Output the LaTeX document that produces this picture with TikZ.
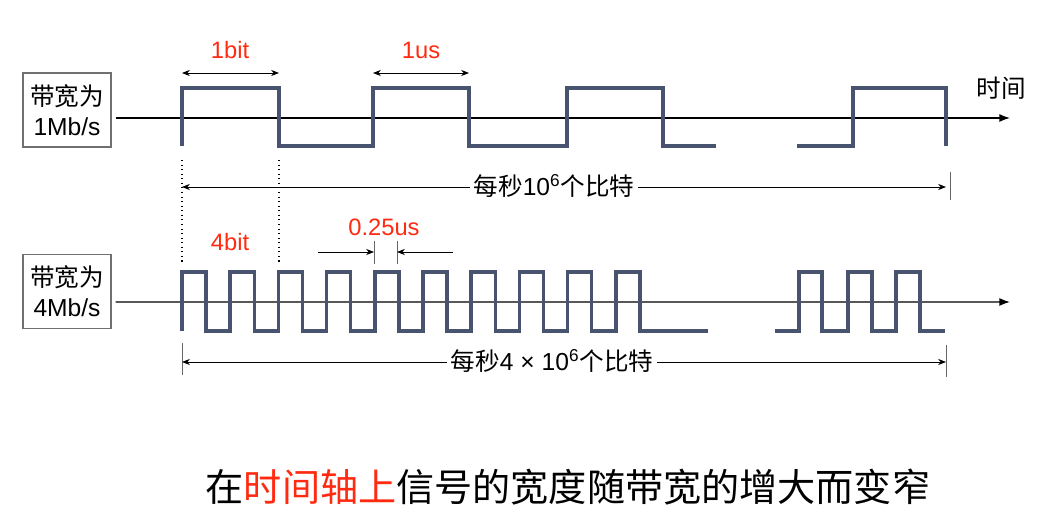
\documentclass[tikz,border=0pt]{standalone}
\usepackage{fontspec}
\setmainfont{Liberation Sans}
\newfontfamily\cjk{Noto Sans CJK SC}
\usepackage{xcolor}
\usetikzlibrary{arrows.meta,positioning}
\definecolor{sigc}{HTML}{485370}
\definecolor{red}{HTML}{FF2A10}
\definecolor{boxgray}{HTML}{707070}

\begin{document}
\begin{tikzpicture}[x=0.02cm,y=-0.02cm,font=\fontsize{13.5}{16}\selectfont,
  sig/.style={sigc,line width=2pt},
  axis/.style={line width=0.8pt,-{Latex[length=6pt,width=4.5pt]}},
  dim/.style={line width=0.5pt,{Stealth[length=4.5pt,width=3.5pt]}-{Stealth[length=4.5pt,width=3.5pt]}},
  onedim/.style={line width=0.5pt,-{Stealth[length=4.5pt,width=3.5pt]}},
  bwbox/.style={draw=boxgray,line width=0.8pt,minimum width=1.76cm,minimum height=1.48cm,
    align=center,inner sep=0pt,font=\fontsize{14}{17}\selectfont},
  tick/.style={line width=0.5pt,black!60},
  redlbl/.style={red,font=\fontsize{13.5}{16}\selectfont}]
  \useasboundingbox (0,0) rectangle (1044,526);

  % 1 Mb/s
  \node[bwbox] (bw1) at (67,110) {{\cjk 带宽为}\\1Mb/s};
  \coordinate (ax1) at (1010,118);
  \draw[axis] (bw1.east) ++(4,8) coordinate (ax1s) -- (ax1);
  \node[font=\fontsize{14}{16}\selectfont] (time) at (1001,88) {\cjk 时间};
  \draw[sig] (182,146) -- (182,88) -- (279,88) -- (279,146) -- (373,146) -- (373,88)
    -- (469,88) -- (469,146) -- (567,146) -- (567,88) -- (663,88) -- (663,146) -- (716,146);
  \draw[sig] (797,146) -- (853,146) -- (853,88) -- (946,88) -- (946,146);

  \coordinate (b1l) at (182,73);
  \coordinate (b1r) at (279,73);
  \draw[dim] (b1l) -- (b1r);
  \node[redlbl] (lbit1) at (230,50) {1bit};
  \coordinate (us1l) at (373,73);
  \coordinate (us1r) at (469,73);
  \draw[dim] (us1l) -- (us1r);
  \node[redlbl] (lus1) at (421,50) {1us};

  \draw[dotted,line width=0.6pt] (182,160) -- (182,262);
  \draw[dotted,line width=0.6pt] (279,160) -- (279,262);

  \coordinate (s1l) at (182,187);
  \coordinate (s1r) at (946,187);
  \draw[dim] (s1l) -- (s1r);
  \draw[tick] (950,172) -- (950,200);
  \node[fill=white,inner sep=2pt,font=\fontsize{14}{16}\selectfont] (rate1) at (554,186)
    {{\cjk 每秒}10\textsuperscript{6}{\cjk 个比特}};

  % 4 Mb/s
  \node[bwbox] (bw4) at (67,291.5) {{\cjk 带宽为}\\4Mb/s};
  \coordinate (ax4) at (1010,302);
  \draw[axis] (bw4.east) ++(4,10.5) coordinate (ax4s) -- (ax4);
  \draw[sig] (182,331) \foreach \k in {0,...,9}{
      -- ({182+48.2*\k},272) -- ({206.1+48.2*\k},272)
      -- ({206.1+48.2*\k},331) -- ({230.2+48.2*\k},331)} -- (708,331);
  \draw[sig] (775,331) -- (799,331) -- (799,272) -- (822,272) -- (822,331) -- (848,331)
    -- (848,272) -- (872,272) -- (872,331) -- (896,331) -- (896,272) -- (920,272)
    -- (920,331) -- (945,331);

  \node[redlbl] (lbit4) at (230,242) {4bit};
  \node[redlbl] (lus4) at (384,227) {0.25us};
  \draw[tick] (374,241) -- (374,264);
  \draw[tick] (397,241) -- (397,264);
  \coordinate (q1) at (318,252);
  \coordinate (q2) at (374,252);
  \coordinate (q3) at (397,252);
  \coordinate (q4) at (453,252);
  \draw[onedim] (q1) -- (q2);
  \draw[onedim] (q4) -- (q3);

  \coordinate (s4l) at (182,362);
  \coordinate (s4r) at (946,362);
  \draw[tick] (182,343) -- (182,375);
  \draw[tick] (946,345) -- (946,377);
  \draw[dim] (s4l) -- (s4r);
  \node[fill=white,inner sep=2pt,font=\fontsize{14}{16}\selectfont] (rate4) at (552,361)
    {{\cjk 每秒}4 × 10\textsuperscript{6}{\cjk 个比特}};

  % caption
  \node[font=\fontsize{21.7}{24}\selectfont\cjk] (cap) at (568,487)
    {在\textcolor{red}{时间轴上}信号的宽度随带宽的增大而变窄};
\end{tikzpicture}
\end{document}
